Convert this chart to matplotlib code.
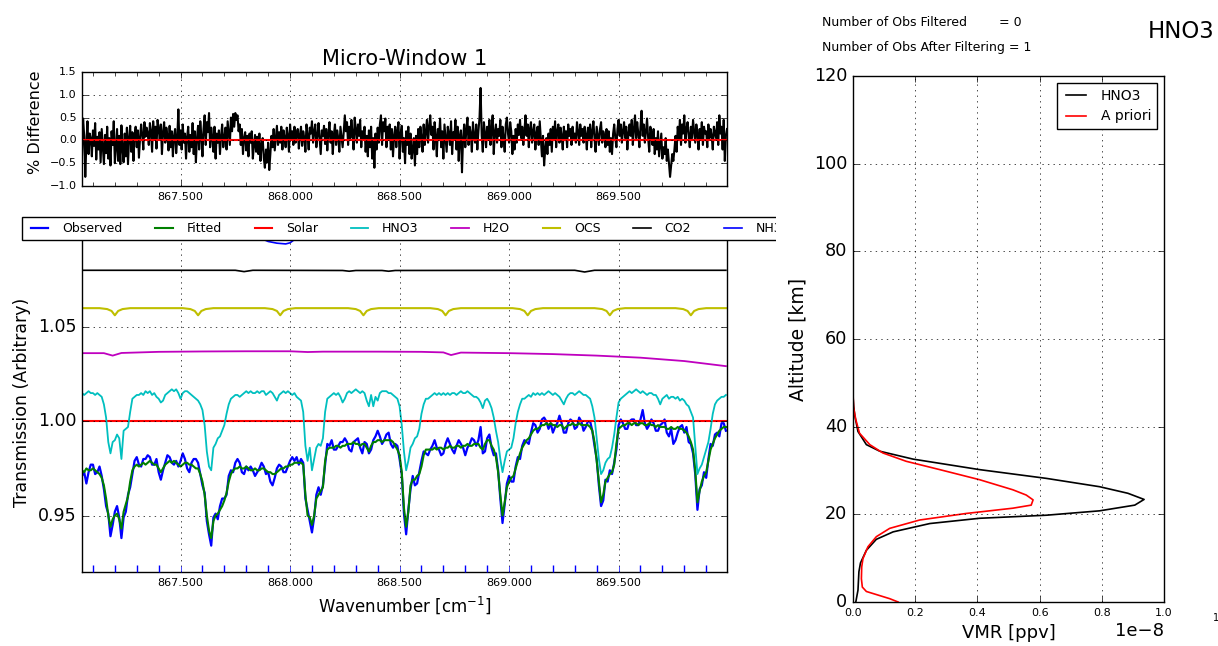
import numpy as np
import matplotlib
matplotlib.use("Agg")
import matplotlib.pyplot as plt
from matplotlib.ticker import MultipleLocator, FixedLocator, FormatStrFormatter
from matplotlib.patches import Rectangle

plt.style.use("classic")
plt.rcParams["figure.facecolor"] = "white"
plt.rcParams["savefig.facecolor"] = "white"
plt.rcParams["mathtext.fontset"] = "dejavusans"
plt.rcParams["font.family"] = ["DejaVu Sans"]

# spectral sampling (cm-1)
wn_start = 867.05
wn_step = 0.01        # spectra
res_step = 0.005      # residual

observed = [
    0.971, 0.973, 0.967, 0.973, 0.977, 0.977, 0.972, 0.973, 0.976, 0.971,
    0.964, 0.955, 0.951, 0.939, 0.945, 0.952, 0.955, 0.949, 0.938, 0.949,
    0.952, 0.961, 0.965, 0.972, 0.979, 0.981, 0.977, 0.976, 0.980, 0.980,
    0.982, 0.981, 0.977, 0.977, 0.980, 0.973, 0.969, 0.974, 0.978, 0.982,
    0.981, 0.978, 0.977, 0.979, 0.976, 0.979, 0.983, 0.980, 0.975, 0.973,
    0.978, 0.980, 0.980, 0.978, 0.972, 0.966, 0.962, 0.947, 0.940, 0.934,
    0.949, 0.951, 0.948, 0.955, 0.959, 0.959, 0.961, 0.971, 0.974, 0.973,
    0.978, 0.980, 0.978, 0.973, 0.972, 0.976, 0.974, 0.976, 0.974, 0.971,
    0.973, 0.975, 0.978, 0.976, 0.972, 0.973, 0.968, 0.966, 0.970, 0.975,
    0.977, 0.976, 0.973, 0.973, 0.976, 0.979, 0.981, 0.979, 0.981, 0.977,
    0.980, 0.978, 0.959, 0.953, 0.947, 0.941, 0.949, 0.961, 0.965, 0.961,
    0.966, 0.977, 0.988, 0.987, 0.990, 0.985, 0.985, 0.987, 0.989, 0.989,
    0.991, 0.989, 0.985, 0.984, 0.989, 0.990, 0.991, 0.986, 0.983, 0.989,
    0.988, 0.983, 0.985, 0.990, 0.992, 0.995, 0.992, 0.988, 0.990, 0.993,
    0.994, 0.988, 0.986, 0.988, 0.987, 0.980, 0.972, 0.951, 0.940, 0.953,
    0.964, 0.971, 0.966, 0.967, 0.973, 0.979, 0.984, 0.983, 0.982, 0.985,
    0.987, 0.990, 0.986, 0.985, 0.982, 0.983, 0.988, 0.991, 0.988, 0.985,
    0.983, 0.987, 0.990, 0.988, 0.986, 0.982, 0.986, 0.988, 0.991, 0.990,
    0.987, 0.990, 0.997, 0.983, 0.984, 0.991, 0.993, 0.986, 0.982, 0.983,
    0.974, 0.959, 0.946, 0.956, 0.967, 0.971, 0.968, 0.968, 0.976, 0.981,
    0.980, 0.987, 0.990, 0.989, 0.988, 0.994, 0.999, 0.998, 0.994, 0.996,
    1.001, 1.002, 1.000, 0.996, 0.999, 0.994, 0.997, 0.999, 1.003, 0.999,
    0.994, 0.994, 0.999, 1.001, 1.000, 0.996, 0.997, 1.002, 1.000, 0.995,
    0.997, 1.000, 1.000, 0.995, 0.987, 0.980, 0.966, 0.955, 0.958, 0.969,
    0.968, 0.974, 0.972, 0.978, 0.985, 0.998, 1.001, 0.999, 0.996, 0.996,
    1.000, 1.001, 1.001, 0.998, 0.998, 1.001, 1.006, 0.999, 0.996, 0.998,
    1.001, 0.999, 0.995, 0.995, 0.998, 0.999, 1.001, 0.994, 0.992, 0.996,
    0.988, 0.990, 0.994, 0.997, 0.998, 0.994, 0.997, 0.989, 0.988, 0.983,
    0.972, 0.953, 0.964, 0.966, 0.973, 0.970, 0.980, 0.988, 0.987, 0.993,
    0.994, 0.992, 0.999, 0.999, 0.995,
]

fitted = [
    0.974, 0.973, 0.975, 0.974, 0.974, 0.975, 0.974, 0.973, 0.972, 0.970,
    0.966, 0.959, 0.950, 0.944, 0.948, 0.950, 0.951, 0.948, 0.943, 0.952,
    0.956, 0.960, 0.968, 0.974, 0.976, 0.977, 0.976, 0.977, 0.978, 0.977,
    0.978, 0.979, 0.978, 0.977, 0.977, 0.975, 0.973, 0.975, 0.977, 0.978,
    0.979, 0.978, 0.979, 0.978, 0.977, 0.976, 0.977, 0.978, 0.978, 0.977,
    0.977, 0.976, 0.975, 0.975, 0.972, 0.968, 0.961, 0.950, 0.942, 0.938,
    0.947, 0.950, 0.951, 0.953, 0.955, 0.958, 0.962, 0.968, 0.972, 0.974,
    0.975, 0.975, 0.976, 0.975, 0.975, 0.976, 0.975, 0.974, 0.974, 0.975,
    0.974, 0.974, 0.975, 0.975, 0.974, 0.973, 0.973, 0.972, 0.972, 0.973,
    0.974, 0.975, 0.975, 0.976, 0.976, 0.977, 0.977, 0.978, 0.978, 0.978,
    0.978, 0.977, 0.961, 0.950, 0.949, 0.945, 0.950, 0.959, 0.961, 0.963,
    0.965, 0.979, 0.985, 0.986, 0.986, 0.986, 0.987, 0.987, 0.986, 0.987,
    0.987, 0.988, 0.988, 0.988, 0.989, 0.988, 0.988, 0.987, 0.988, 0.988,
    0.986, 0.984, 0.987, 0.989, 0.989, 0.990, 0.990, 0.989, 0.990, 0.990,
    0.990, 0.990, 0.989, 0.987, 0.985, 0.982, 0.973, 0.954, 0.944, 0.952,
    0.966, 0.969, 0.969, 0.971, 0.972, 0.976, 0.982, 0.985, 0.985, 0.985,
    0.985, 0.986, 0.985, 0.986, 0.986, 0.985, 0.986, 0.986, 0.987, 0.986,
    0.986, 0.987, 0.987, 0.986, 0.987, 0.987, 0.988, 0.987, 0.987, 0.988,
    0.988, 0.988, 0.986, 0.985, 0.988, 0.990, 0.990, 0.987, 0.985, 0.981,
    0.973, 0.961, 0.950, 0.957, 0.965, 0.968, 0.970, 0.971, 0.975, 0.979,
    0.983, 0.986, 0.988, 0.990, 0.991, 0.993, 0.995, 0.996, 0.996, 0.997,
    0.998, 0.998, 0.999, 0.998, 0.999, 0.998, 0.998, 0.997, 0.998, 0.998,
    0.996, 0.997, 0.998, 0.998, 0.999, 0.998, 0.998, 0.999, 0.998, 0.998,
    0.998, 0.998, 0.997, 0.995, 0.989, 0.979, 0.968, 0.957, 0.961, 0.968,
    0.970, 0.972, 0.973, 0.977, 0.988, 0.996, 0.997, 0.998, 0.998, 0.999,
    0.999, 0.998, 0.999, 0.999, 0.998, 0.999, 0.999, 0.998, 0.998, 0.999,
    0.998, 0.998, 0.997, 0.998, 0.997, 0.997, 0.997, 0.996, 0.996, 0.997,
    0.996, 0.996, 0.997, 0.996, 0.996, 0.995, 0.994, 0.992, 0.989, 0.985,
    0.974, 0.957, 0.963, 0.968, 0.971, 0.973, 0.979, 0.985, 0.988, 0.991,
    0.993, 0.995, 0.996, 0.997, 0.997,
]

# HNO3 only transmission (offset upward)
hno3 = [
    1.015, 1.014, 1.015, 1.016, 1.015, 1.015, 1.014, 1.015, 1.014, 1.013,
    1.009, 1.002, 0.989, 0.983, 0.989, 0.990, 0.993, 0.991, 0.980, 0.995,
    0.996, 0.997, 1.005, 1.012, 1.013, 1.014, 1.014, 1.015, 1.014, 1.016,
    1.015, 1.016, 1.014, 1.015, 1.013, 1.012, 1.010, 1.011, 1.014, 1.015,
    1.016, 1.017, 1.016, 1.017, 1.015, 1.012, 1.015, 1.016, 1.016, 1.015,
    1.014, 1.013, 1.012, 1.011, 1.009, 1.006, 0.998, 0.984, 0.976, 0.974,
    0.986, 0.988, 0.991, 0.992, 0.995, 0.998, 1.004, 1.009, 1.012, 1.013,
    1.014, 1.014, 1.013, 1.014, 1.015, 1.016, 1.015, 1.016, 1.015, 1.015,
    1.016, 1.015, 1.016, 1.016, 1.014, 1.015, 1.016, 1.015, 1.013, 1.011,
    1.014, 1.015, 1.016, 1.015, 1.016, 1.015, 1.014, 1.015, 1.013, 1.012,
    1.011, 1.005, 0.987, 0.979, 0.986, 0.974, 0.980, 0.986, 0.988, 0.987,
    0.991, 1.005, 1.012, 1.013, 1.014, 1.015, 1.014, 1.015, 1.013, 1.010,
    1.012, 1.015, 1.016, 1.015, 1.016, 1.017, 1.016, 1.015, 1.016, 1.015,
    1.011, 1.008, 1.014, 1.008, 1.013, 1.011, 1.015, 1.016, 1.016, 1.016,
    1.015, 1.015, 1.014, 1.013, 1.012, 1.008, 0.998, 0.984, 0.974, 0.979,
    0.986, 0.988, 0.991, 0.992, 0.996, 1.004, 1.009, 1.012, 1.012, 1.013,
    1.014, 1.015, 1.014, 1.015, 1.014, 1.015, 1.014, 1.015, 1.014, 1.015,
    1.015, 1.014, 1.015, 1.016, 1.015, 1.015, 1.016, 1.015, 1.014, 1.013,
    1.013, 1.012, 1.010, 1.007, 1.011, 1.012, 1.010, 1.007, 1.002, 0.995,
    0.989, 0.980, 0.973, 0.979, 0.984, 0.985, 0.986, 0.991, 0.999, 1.005,
    1.009, 1.012, 1.012, 1.013, 1.014, 1.013, 1.015, 1.014, 1.015, 1.014,
    1.015, 1.014, 1.015, 1.016, 1.015, 1.014, 1.015, 1.014, 1.013, 1.011,
    1.009, 1.012, 1.014, 1.015, 1.015, 1.014, 1.015, 1.016, 1.015, 1.014,
    1.014, 1.013, 1.012, 1.008, 1.002, 0.991, 0.980, 0.972, 0.974, 0.978,
    0.980, 0.981, 0.986, 0.993, 1.002, 1.010, 1.012, 1.013, 1.014, 1.015,
    1.016, 1.015, 1.016, 1.017, 1.016, 1.015, 1.016, 1.015, 1.014, 1.015,
    1.015, 1.014, 1.014, 1.012, 1.009, 1.012, 1.013, 1.014, 1.012, 1.013,
    1.013, 1.012, 1.013, 1.011, 1.012, 1.011, 1.009, 1.008, 1.005, 1.002,
    0.987, 0.972, 0.975, 0.977, 0.981, 0.985, 0.989, 0.996, 1.004, 1.009,
    1.011, 1.012, 1.013, 1.013, 1.014,
]

# % difference (finer sampling)
pct_diff = [
    -0.32, 0.48, 0.10, -0.80, -0.05, 0.42, -0.30, 0.15, 0.05, -0.35, 0.22, -0.12, 0.38, -0.42, 0.08, -0.20, 0.18, -0.48, 0.25, -0.15,
    -0.52, 0.12, -0.28, 0.30, -0.40, 0.05, -0.55, 0.20, -0.10, 0.42, -0.50, -0.15, 0.25, -0.45, 0.10, -0.52, 0.33, -0.20, -0.48, 0.15,
    -0.35, 0.28, -0.52, 0.05, 0.32, -0.25, 0.18, -0.45, 0.10, 0.30, -0.15, 0.22, -0.38, 0.05, 0.35, 0.12, -0.20, 0.40, 0.08, 0.28,
    0.15, -0.10, 0.38, 0.20, -0.25, 0.42, 0.05, 0.30, -0.18, 0.45, 0.25, 0.02, 0.35, -0.30, 0.18, 0.40, -0.05, 0.28, 0.10, -0.22,
    0.32, -0.15, 0.20, -0.35, 0.10, 0.25, -0.28, 0.05, 0.68, -0.10, 0.22, -0.20, 0.35, -0.05, 0.15, -0.40, 0.08, 0.30, -0.25, 0.12,
    -0.15, 0.38, -0.30, 0.20, -0.48, 0.05, 0.32, -0.20, 0.42, 0.10, -0.35, 0.25, 0.55, -0.10, 0.40, 0.18, 0.60, -0.15, 0.28, 0.05,
    -0.25, 0.30, -0.40, 0.15, -0.05, 0.22, -0.30, 0.10, 0.35, -0.15, 0.05, 0.28, -0.20, 0.42, 0.15, -0.10, 0.50, 0.20, 0.58, 0.30,
    0.60, 0.45, 0.55, 0.20, 0.35, -0.10, 0.25, -0.30, 0.05, 0.18, -0.22, 0.10, -0.35, 0.15, -0.05, 0.20, -0.40, -0.10, 0.12, -0.25,
    0.08, -0.30, 0.15, -0.45, -0.10, 0.05, -0.38, -0.60, -0.20, -0.48, -0.05, -0.65, -0.30, 0.10, -0.15, 0.25, -0.22, 0.05, 0.32, -0.10,
    0.18, -0.05, 0.30, -0.20, 0.22, 0.05, -0.15, 0.28, 0.10, -0.25, 0.35, 0.02, 0.20, -0.10, 0.30, -0.05, 0.15, 0.25, -0.18, 0.12,
    0.30, -0.12, 0.20, 0.05, -0.25, 0.35, 0.10, -0.20, 0.28, 0.15, 0.42, -0.05, 0.20, 0.35, -0.15, 0.10, 0.38, 0.05, -0.30, 0.22,
    0.10, 0.32, -0.08, 0.25, -0.22, 0.15, 0.40, -0.05, 0.20, -0.30, 0.12, 0.35, -0.10, 0.22, 0.05, -0.25, 0.30, 0.08, -0.15, 0.18,
    0.55, 0.20, 0.40, -0.10, 0.30, 0.05, 0.45, 0.15, -0.20, 0.50, 0.25, -0.05, 0.35, 0.10, 0.45, -0.15, 0.20, 0.05, 0.30, -0.25,
    0.10, -0.35, 0.22, -0.15, 0.30, -0.40, 0.05, -0.60, 0.15, -0.20, 0.28, -0.05, 0.35, 0.55, -0.10, 0.40, 0.20, 0.48, -0.15, 0.30,
    0.05, 0.35, -0.20, 0.25, -0.35, 0.10, 0.30, -0.15, 0.22, 0.40, -0.40, 0.15, 0.32, -0.25, 0.05, -0.50, 0.20, -0.10, 0.30, -0.30,
    0.15, -0.40, -0.20, 0.05, -0.55, 0.10, -0.30, 0.25, -0.15, 0.30, 0.05, -0.25, 0.35, -0.10, 0.20, 0.45, -0.05, 0.30, 0.55, 0.12,
    0.30, -0.20, 0.40, 0.10, -0.35, 0.25, 0.05, 0.48, -0.15, 0.20, -0.40, 0.35, 0.05, -0.25, 0.30, 0.15, -0.10, 0.42, -0.30, 0.18,
    0.05, 0.45, -0.20, 0.30, -0.45, 0.10, 0.22, -0.70, 0.05, 0.35, -0.15, 0.25, 0.50, -0.10, 0.30, 0.15, -0.25, 0.40, 0.08, -0.05,
    0.35, -0.20, 0.20, 0.50, 1.15, 0.10, -0.25, 0.40, 0.15, -0.15, 0.30, 0.05, 0.45, -0.10, 0.25, 0.55, -0.30, 0.18, 0.35, -0.05,
    0.25, 0.10, 0.45, -0.15, 0.30, 0.05, -0.25, 0.35, 0.50, 0.15, -0.05, 0.40, 0.20, -0.30, 0.10, -0.20, 0.25, -0.05, 0.35, 0.12,
    0.45, 0.05, 0.30, -0.10, 0.20, 0.55, 0.10, 0.35, -0.15, 0.25, 0.40, -0.05, 0.20, 0.35, -0.20, 0.15, 0.30, -0.10, 0.42, 0.05,
    -0.35, 0.10, -0.55, -0.20, 0.05, -0.30, 0.15, -0.10, 0.25, -0.25, 0.30, 0.05, 0.42, -0.15, 0.20, 0.35, -0.05, 0.28, 0.10, -0.20,
    0.30, 0.05, 0.20, -0.15, 0.35, 0.10, 0.25, -0.10, 0.30, 0.05, 0.15, -0.05, 0.40, 0.20, -0.10, 0.35, 0.10, 0.25, -0.05, 0.30,
    0.12, -0.20, 0.28, 0.05, 0.35, -0.15, 0.20, 0.42, 0.05, -0.25, 0.30, 0.10, -0.10, 0.25, 0.40, -0.05, 0.20, 0.10, -0.15, 0.25,
    -0.10, 0.20, -0.25, 0.05, -0.30, 0.15, 0.35, 0.05, -0.15, 0.25, 0.45, 0.10, 0.35, -0.05, 0.20, 0.40, 0.05, 0.30, -0.20, 0.15,
    0.35, 0.10, 0.45, -0.10, 0.25, 0.55, 0.05, 0.40, 0.15, -0.15, 0.30, 0.65, 0.10, 0.35, -0.05, 0.20, 0.48, 0.05, -0.25, 0.30,
    0.15, -0.10, 0.25, -0.30, 0.05, -0.20, 0.20, -0.35, -0.10, 0.15, -0.40, -0.15, -0.30, 0.05, -0.45, -0.20, -0.50, -0.80, -0.55, -0.30,
    -0.45, -0.20, 0.10, -0.25, 0.30, 0.05, 0.45, -0.10, 0.35, 0.15, 0.55, -0.05, 0.25, 0.40, 0.10, -0.15, 0.30, 0.05, 0.45, 0.20,
    -0.05, 0.35, 0.15, -0.20, 0.25, 0.05, 0.40, -0.10, 0.30, 0.15, 0.20, -0.15, 0.35, 0.05, 0.25, 0.10, -0.20, 0.30, 0.15, 0.05,
    0.40, -0.10, 0.55, 0.15, 0.30, -0.20, 0.45, -0.45, 0.10, 0.25,
]

solar_wn = [867.05, 869.99]
solar = [1.000, 1.000]

h2o_wn = [867.05, 867.15, 867.19, 867.23, 867.40, 867.60, 867.80, 868.00, 868.08,
          868.15, 868.40, 868.60, 868.70, 868.735, 868.78, 869.00, 869.20, 869.40,
          869.60, 869.80, 869.99]
h2o = [1.0362, 1.0362, 1.0349, 1.0363, 1.0369, 1.0371, 1.0372, 1.0372, 1.0368,
       1.0370, 1.0370, 1.0369, 1.0366, 1.0352, 1.0365, 1.0362, 1.0357, 1.0349,
       1.0338, 1.0320, 1.0293]

ocs_wn = [867.05, 867.13, 867.165, 867.185, 867.20, 867.215, 867.235, 867.27,
          867.51, 867.545, 867.565, 867.58, 867.595, 867.615, 867.65,
          867.885, 867.92, 867.94, 867.955, 867.97, 867.99, 868.025,
          868.265, 868.30, 868.32, 868.335, 868.35, 868.37, 868.405,
          868.64, 868.675, 868.695, 868.71, 868.725, 868.745, 868.78,
          869.015, 869.05, 869.07, 869.085, 869.10, 869.12, 869.155,
          869.39, 869.425, 869.445, 869.46, 869.475, 869.495, 869.53,
          869.76, 869.795, 869.815, 869.83, 869.845, 869.865, 869.90, 869.99]
ocs = [1.0601, 1.0601, 1.0596, 1.0586, 1.0563, 1.0586, 1.0596, 1.0601,
       1.0601, 1.0596, 1.0586, 1.0563, 1.0586, 1.0596, 1.0601,
       1.0601, 1.0596, 1.0586, 1.0563, 1.0586, 1.0596, 1.0601,
       1.0601, 1.0596, 1.0586, 1.0563, 1.0586, 1.0596, 1.0601,
       1.0601, 1.0596, 1.0586, 1.0563, 1.0586, 1.0596, 1.0601,
       1.0601, 1.0596, 1.0586, 1.0563, 1.0586, 1.0596, 1.0601,
       1.0601, 1.0596, 1.0586, 1.0563, 1.0586, 1.0596, 1.0601,
       1.0601, 1.0596, 1.0586, 1.0563, 1.0586, 1.0596, 1.0601, 1.0601]

co2_wn = [867.05, 867.75, 867.79, 867.83, 868.24, 868.27, 868.30, 868.42, 868.45,
          868.48, 869.30, 869.345, 869.39, 869.99]
co2 = [1.0802, 1.0802, 1.0795, 1.0802, 1.0801, 1.0797, 1.0801, 1.0801, 1.0797,
       1.0801, 1.0802, 1.0793, 1.0802, 1.0802]

nh3_wn = [867.05, 867.80, 867.86, 867.90, 867.94, 867.98, 868.00, 868.02, 868.06,
          868.12, 869.99]
nh3 = [1.1000, 1.1000, 1.0975, 1.0955, 1.0946, 1.0942, 1.0948, 1.0965, 1.0990,
       1.1000, 1.1000]

# vertical profiles, VMR in units of 1e-8 ppv
vmr_scale = 1e-8
ret_alt = [0, 2.7, 6.9, 8.9, 11.8, 14.3, 16.0, 17.9, 19.1, 19.8, 20.8, 22.1,
           23.4, 24.8, 26.3, 28.2, 30.2, 32.6, 34.4, 35.9, 38.9, 42.4, 44.7,
           47.0, 120.0]
ret_vmr = [0.009, 0.016, 0.019, 0.024, 0.043, 0.075, 0.129, 0.247, 0.407,
           0.622, 0.793, 0.906, 0.936, 0.884, 0.793, 0.622, 0.407, 0.193,
           0.086, 0.043, 0.016, 0.006, 0.002, 0.0, 0.0]
apr_alt = [0, 0.76, 1.7, 2.4, 3.4, 5.3, 8.0, 9.9, 12.6, 14.9, 16.8, 18.7, 20.2,
           21.4, 22.1, 23.3, 24.4, 25.6, 27.9, 30.2, 32.1, 34.0, 35.9, 38.5,
           41.6, 44.3, 47.7, 120.0]
apr_vmr = [0.145, 0.118, 0.075, 0.043, 0.030, 0.027, 0.028, 0.032, 0.048,
           0.075, 0.118, 0.214, 0.364, 0.514, 0.573, 0.579, 0.557, 0.514,
           0.407, 0.279, 0.171, 0.096, 0.054, 0.021, 0.009, 0.002, 0.0, 0.0]

wavenumber = np.round(wn_start + wn_step * np.arange(len(fitted)), 3)
res_wn = np.round(wn_start + res_step * np.arange(len(pct_diff)), 3)

W, H = 1218.0, 646.0
fig = plt.figure(figsize=(W / 100, H / 100), dpi=100)


def px_axes(left, top, right, bottom):
    return fig.add_axes([left / W, 1 - bottom / H, (right - left) / W, (bottom - top) / H])


ax_res = px_axes(82, 72, 727, 186)
ax_spec = px_axes(82, 233, 727, 572)
ax_prof = px_axes(853, 76, 1164, 602)

major_wn = [867.5, 868.0, 868.5, 869.0, 869.5]

# residual panel
ax_res.plot(res_wn, pct_diff, color="k", lw=1.5)
ax_res.axhline(0.0, color="r", lw=1.5)
ax_res.set_ylim(-1.0, 1.5)
ax_res.yaxis.set_major_locator(MultipleLocator(0.5))
ax_res.set_ylabel("% Difference", fontsize=11.5)
ax_res.yaxis.label.set_y(0.557)
ax_res.set_title("Micro-Window 1", fontsize=15)
ax_res.tick_params(axis="y", labelsize=8)
ax_res.tick_params(axis="x", which="minor", length=3, color="k")

# spectrum panel
ax_spec.plot(wavenumber, observed, color="b", lw=1.6, label="Observed")
ax_spec.plot(wavenumber, fitted, color="g", lw=1.5, label="Fitted")
ax_spec.plot(solar_wn, solar, color="r", lw=1.5, label="Solar")
ax_spec.plot(wavenumber, hno3, color="c", lw=1.3, label="HNO3")
ax_spec.plot(h2o_wn, h2o, color="m", lw=1.3, label="H2O")
ax_spec.plot(ocs_wn, ocs, color="y", lw=1.5, label="OCS")
ax_spec.plot(co2_wn, co2, color="k", lw=1.2, label="CO2")
ax_spec.plot(nh3_wn, nh3, color="b", lw=1.2, label="NH3")
ax_spec.set_ylim(0.92, 1.10)
ax_spec.yaxis.set_major_locator(FixedLocator([0.95, 1.00, 1.05]))
ax_spec.yaxis.set_major_formatter(FormatStrFormatter("%.2f"))
ax_spec.tick_params(axis="y", labelsize=12.5)
ax_spec.tick_params(axis="x", which="both", color="b")
ax_spec.tick_params(axis="x", which="minor", length=5, width=1)
ax_spec.set_ylabel("Transmission (Arbitrary)", fontsize=12.5)
ax_spec.set_xlabel("Wavenumber [cm$^{-1}$]", fontsize=12)
ax_spec.legend(loc="lower left", bbox_to_anchor=(-0.093, 0.979, 1.186, 0.07),
               mode="expand", ncol=8, fontsize=9, borderaxespad=0.0)

for ax in (ax_res, ax_spec):
    ax.set_xlim(867.05, 869.995)
    ax.xaxis.set_major_locator(FixedLocator(major_wn))
    ax.xaxis.set_minor_locator(MultipleLocator(0.1))
    ax.xaxis.set_major_formatter(FormatStrFormatter("%.3f"))
    ax.tick_params(axis="x", labelsize=8)
    ax.grid(True)

# profile panel
ax_prof.plot(np.array(ret_vmr) * vmr_scale, ret_alt, color="k", lw=1.2, label="HNO3")
ax_prof.plot(np.array(apr_vmr) * vmr_scale, apr_alt, color="r", lw=1.2, label="A priori")
ax_prof.set_xlim(0, 1e-8)
ax_prof.set_ylim(0, 120)
ax_prof.xaxis.set_major_locator(MultipleLocator(0.2e-8))
ax_prof.yaxis.set_major_locator(MultipleLocator(20))
ax_prof.ticklabel_format(axis="x", style="sci", scilimits=(-8, -8))
ax_prof.tick_params(axis="x", labelsize=8)
ax_prof.tick_params(axis="y", labelsize=12.7)
ax_prof.xaxis.get_offset_text().set_fontsize(13)
ax_prof.set_xlabel("VMR [ppv]", fontsize=13)
ax_prof.set_ylabel("Altitude [km]", fontsize=13.5)
ax_prof.grid(True)
ax_prof.legend(loc="upper right", fontsize=10)

# the left panel legend runs past the cropped edge of the left figure
fig.patches.append(Rectangle((776 / W, 1 - 244 / H), 36 / W, 32 / H,
                             transform=fig.transFigure, facecolor="white",
                             edgecolor="none", zorder=10))

fig.text(822 / W, 1 - 22 / H, "Number of Obs Filtered        = 0", fontsize=9, va="center")
fig.text(822 / W, 1 - 48 / H, "Number of Obs After Filtering = 1", fontsize=9, va="center")
fig.text(1148 / W, 1 - 32 / H, "HNO3", fontsize=16.5, va="center")
fig.text(1213 / W, 1 - 618 / H, "1", fontsize=7, va="center")

fig.savefig("out.png", dpi=100)
